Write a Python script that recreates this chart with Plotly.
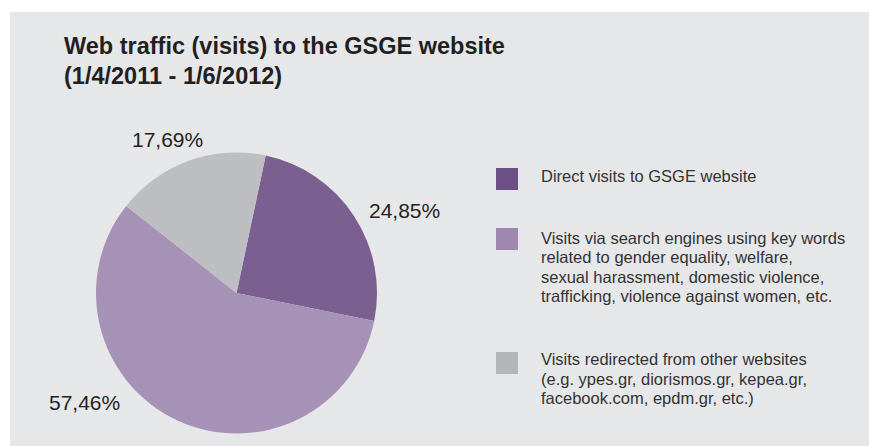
import plotly.graph_objects as go

W, H = 869, 446

# ---- data ----
categories = [
    "Direct visits to GSGE website",
    "Visits via search engines using key words related to gender equality, welfare, sexual harassment, domestic violence, trafficking, violence against women, etc.",
    "Visits redirected from other websites (e.g. ypes.gr, diorismos.gr, kepea.gr, facebook.com, epdm.gr, etc.)",
]
values = [24.85, 57.46, 17.69]
legend_lines = [
    ["Direct visits to GSGE website"],
    ["Visits via search engines using key words",
     "related to gender equality, welfare,",
     "sexual harassment, domestic violence,",
     "trafficking, violence against women, etc."],
    ["Visits redirected from other websites",
     "(e.g. ypes.gr, diorismos.gr, kepea.gr,",
     "facebook.com, epdm.gr, etc.)"],
]
title_lines = ["Web traffic (visits) to the GSGE website", "(1/4/2011 - 1/6/2012)"]

slice_colors = ["#7B5F91", "#A692B6", "#BDBEC1"]
legend_colors = ["#6C4F84", "#9F88B0", "#B4B5B9"]
bg = "#E6E7E9"
FONT = "Liberation Sans, Arial, Helvetica, sans-serif"


def px(x):
    return x / W


def py(y):
    return 1 - y / H


cx, cy, r = 236.5, 293.0, 140.5

fig = go.Figure()
fig.add_trace(go.Pie(
    labels=categories,
    values=values,
    sort=False,
    direction="clockwise",
    rotation=12,
    marker=dict(colors=slice_colors, line=dict(width=0)),
    textinfo="none",
    hoverinfo="label+percent",
    showlegend=False,
    domain=dict(x=[px(cx - r), px(cx + r)], y=[py(cy + r), py(cy - r)]),
))

shapes = [dict(type="rect", xref="paper", yref="paper", x0=px(10), x1=1.0, y0=0.0, y1=py(12),
               fillcolor=bg, line=dict(width=0), layer="below")]

annotations = []
# title
for i, t in enumerate(title_lines):
    annotations.append(dict(text=t, x=px(62), y=py(46.3 + 29.2 * i), xref="paper", yref="paper",
                            xanchor="left", yanchor="middle", showarrow=False,
                            font=dict(family=FONT, size=23.5, color="#231F20", weight="bold")))

# percentage labels
label_pos = [(404, 210.5), (84.5, 402.5), (167, 139.5)]
for v, (lx, ly) in zip(values, label_pos):
    annotations.append(dict(text=f"{v:.2f}%".replace(".", ","), x=px(lx), y=py(ly), xref="paper", yref="paper",
                            xanchor="center", yanchor="middle", showarrow=False,
                            font=dict(family=FONT, size=21, color="#231F20")))

# legend
sq_tops = [168, 228, 352]
first_centers = [176, 237.5, 359]
spacing = 19.5
for lines, col, top, c0 in zip(legend_lines, legend_colors, sq_tops, first_centers):
    shapes.append(dict(type="rect", xref="paper", yref="paper", x0=px(496), x1=px(518),
                       y0=py(top + 22), y1=py(top), fillcolor=col, line=dict(width=0)))
    for j, ln in enumerate(lines):
        annotations.append(dict(text=ln, x=px(539), y=py(c0 + spacing * j), xref="paper", yref="paper",
                                xanchor="left", yanchor="middle", showarrow=False,
                                font=dict(family=FONT, size=16.5, color="#333333")))

fig.update_layout(
    width=W, height=H,
    margin=dict(l=0, r=0, t=0, b=0),
    paper_bgcolor="white",
    plot_bgcolor="white",
    shapes=shapes,
    annotations=annotations,
)

fig.write_html(
    "out.html",
    config={"displayModeBar": False},
    post_script="document.body.style.margin='0';document.body.style.overflow='hidden';"
                "document.documentElement.style.overflow='hidden';"
                "document.documentElement.style.background='" + bg + "';"
                "document.body.style.background='" + bg + "';",
)
